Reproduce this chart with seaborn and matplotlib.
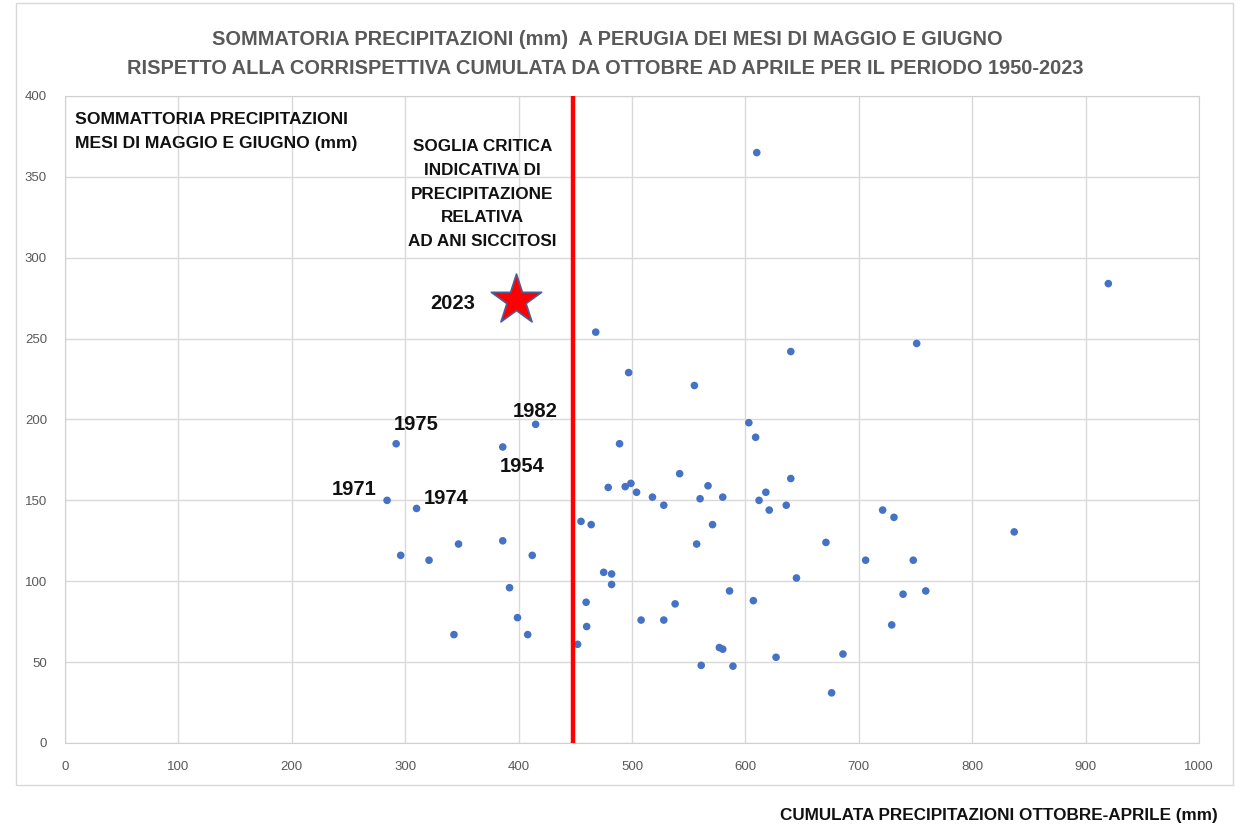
import pandas as pd
import matplotlib
matplotlib.use("Agg")
import matplotlib.pyplot as plt
import seaborn as sns
from matplotlib.patches import Rectangle

# Perugia: cumulata ott-apr (x) vs somma maggio+giugno (y), 1950-2023
# i primi 5 punti sono quelli etichettati con l'anno
anni_etichetta = ["1975", "1971", "1974", "1954", "1982"]
cumulata_ott_apr = [
    292, 284, 310, 386, 415,
    296, 321, 347, 386, 412, 392, 399, 343, 408,
    610, 920, 468, 497, 640, 751, 555, 489, 542, 479, 494, 499, 504,
    518, 528, 560, 455, 464, 557, 475, 482, 482, 459.5, 538, 508, 528,
    460, 452, 561, 603, 609, 640, 567, 580, 618, 612, 621, 636, 571,
    671, 721, 731, 706, 748, 645, 586, 607, 739, 759, 729, 577, 580,
    686, 627, 589, 676, 837,
]
somma_mag_giu = [
    185, 150, 145, 183, 197,
    116, 113, 123, 125, 116, 96, 77.5, 67, 67,
    365, 284, 254, 229, 242, 247, 221, 185, 166.5, 158, 158.5, 160.5, 155,
    152, 147, 151, 137, 135, 123, 105.5, 104.5, 98, 87, 86, 76, 76,
    72, 61, 48, 198, 189, 163.5, 159, 152, 155, 150, 144, 147, 135,
    124, 144, 139.5, 113, 113, 102, 94, 88, 92, 94, 73, 59, 58,
    55, 53, 47.5, 31, 130.5,
]
anno_2023 = "2023"
x_2023 = 398
y_2023 = 274
soglia = 448

df = pd.DataFrame({"ott_apr": cumulata_ott_apr, "mag_giu": somma_mag_giu})

sns.set_style("white")
plt.rcParams["font.family"] = ["Liberation Sans", "DejaVu Sans"]

fig = plt.figure(figsize=(12.36, 8.26), dpi=100)
ax = fig.add_axes([0.0526, 0.1005, 0.9175, 0.7833])

sns.scatterplot(data=df, x="ott_apr", y="mag_giu", ax=ax, color="#4472C4",
                s=30, edgecolor="none", zorder=3)

ax.axvline(soglia, color="#ff0000", lw=3.2, zorder=4)
ax.scatter([x_2023], [y_2023], marker="*", s=1450, color="#ff0000",
           edgecolor="#4a5f9a", linewidth=1.2, zorder=5)

ax.set_xlim(0, 1000)
ax.set_ylim(0, 400)
ax.set_xticks(range(0, 1001, 100))
ax.set_yticks(range(0, 401, 50))
ax.grid(True, color="#d9d9d9", lw=1)
ax.set_axisbelow(True)
for sp in ax.spines.values():
    sp.set_color("#d0d0d0")
ax.tick_params(length=0, colors="#595959", labelsize=9.5, pad=13)
ax.set_xlabel("")
ax.set_ylabel("")

# etichette anni
offsets = {"1975": (20, 19), "1971": (-33, 11), "1974": (30, 10),
           "1954": (19, -20), "1982": (0, 13)}
for i, anno in enumerate(anni_etichetta):
    ax.annotate(anno, (cumulata_ott_apr[i], somma_mag_giu[i]),
                xytext=offsets[anno], textcoords="offset pixels",
                ha="center", va="center", fontsize=14.5, fontweight="bold",
                color="#111111")
ax.annotate(anno_2023, (x_2023, y_2023), xytext=(-64, -4), textcoords="offset pixels",
            ha="center", va="center", fontsize=14.5, fontweight="bold", color="#111111")

ax.text(0.009, 0.975, "SOMMATTORIA PRECIPITAZIONI\nMESI DI MAGGIO E GIUGNO (mm)",
        transform=ax.transAxes, ha="left", va="top", fontsize=12.6, fontweight="bold",
        linespacing=1.75, color="#111111")
ax.text(368, 373.5, "SOGLIA CRITICA\nINDICATIVA DI\nPRECIPITAZIONE\nRELATIVA\nAD ANI SICCITOSI",
        ha="center", va="top", fontsize=12.3, fontweight="bold",
        linespacing=1.74, color="#111111")

fig.text(0.4915, 0.952, "SOMMATORIA PRECIPITAZIONI (mm)  A PERUGIA DEI MESI DI MAGGIO E GIUGNO",
         ha="center", va="center", fontsize=14.4, fontweight="bold", color="#595959")
fig.text(0.490, 0.917, "RISPETTO ALLA CORRISPETTIVA CUMULATA DA OTTOBRE AD APRILE PER IL PERIODO 1950-2023",
         ha="center", va="center", fontsize=14.4, fontweight="bold", color="#595959")

fig.text(0.985, 0.013, "CUMULATA PRECIPITAZIONI OTTOBRE-APRILE (mm)",
         ha="right", va="center", fontsize=12.3, fontweight="bold", color="#111111")

fig.patches.append(Rectangle((0.013, 0.0496), 0.9846, 0.9468, transform=fig.transFigure,
                             fill=False, edgecolor="#d9d9d9", lw=1))

fig.savefig("out.png", dpi=100)
